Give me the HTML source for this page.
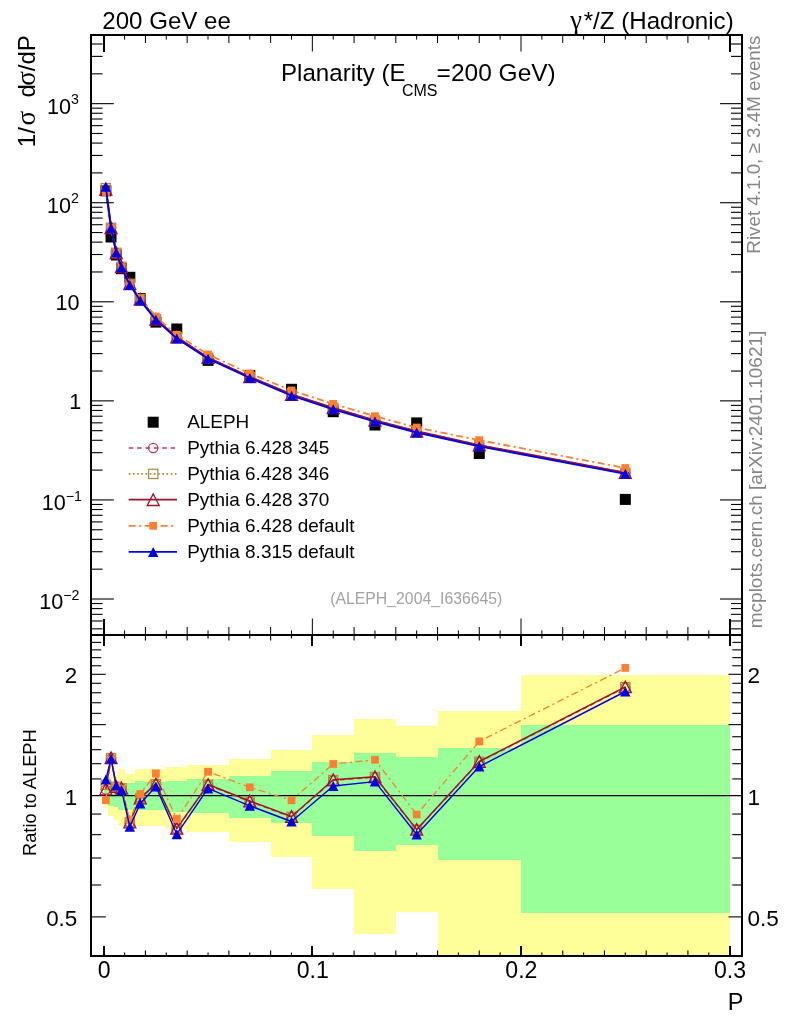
<!DOCTYPE html>
<html><head><meta charset="utf-8"><title>Planarity</title>
<style>html,body{margin:0;padding:0;background:#fff;}svg{display:block;will-change:transform;}text{font-family:"Liberation Sans",sans-serif;}</style></head>
<body>
<svg width="786" height="1024" viewBox="0 0 786 1024" font-family='"Liberation Sans", sans-serif'>
<rect x="0.00" y="0.00" width="786.00" height="1024.00" fill="#fff" />
<g shape-rendering="crispEdges">
<rect x="103.75" y="784.30" width="4.17" height="23.20" fill="#ffff99" />
<rect x="107.92" y="776.90" width="6.26" height="38.90" fill="#ffff99" />
<rect x="114.18" y="774.70" width="4.17" height="45.30" fill="#ffff99" />
<rect x="118.35" y="768.90" width="6.26" height="57.10" fill="#ffff99" />
<rect x="124.61" y="774.20" width="10.43" height="51.80" fill="#ffff99" />
<rect x="135.04" y="769.00" width="10.43" height="57.40" fill="#ffff99" />
<rect x="145.48" y="769.20" width="20.86" height="56.30" fill="#ffff99" />
<rect x="166.34" y="767.00" width="20.86" height="61.70" fill="#ffff99" />
<rect x="187.20" y="764.80" width="41.73" height="67.10" fill="#ffff99" />
<rect x="228.93" y="758.50" width="41.73" height="83.90" fill="#ffff99" />
<rect x="270.65" y="750.20" width="41.73" height="106.40" fill="#ffff99" />
<rect x="312.38" y="734.70" width="41.73" height="154.30" fill="#ffff99" />
<rect x="354.11" y="719.10" width="41.73" height="215.20" fill="#ffff99" />
<rect x="395.83" y="725.60" width="41.73" height="185.90" fill="#ffff99" />
<rect x="437.56" y="711.00" width="83.45" height="245.00" fill="#ffff99" />
<rect x="521.01" y="675.30" width="208.63" height="280.70" fill="#ffff99" />
<rect x="103.75" y="789.80" width="4.17" height="11.60" fill="#99ff99" />
<rect x="107.92" y="786.00" width="6.26" height="20.00" fill="#99ff99" />
<rect x="114.18" y="784.80" width="4.17" height="22.10" fill="#99ff99" />
<rect x="118.35" y="782.50" width="6.26" height="27.50" fill="#99ff99" />
<rect x="124.61" y="783.00" width="10.43" height="27.00" fill="#99ff99" />
<rect x="135.04" y="781.00" width="10.43" height="29.00" fill="#99ff99" />
<rect x="145.48" y="781.50" width="20.86" height="28.10" fill="#99ff99" />
<rect x="166.34" y="781.00" width="20.86" height="30.90" fill="#99ff99" />
<rect x="187.20" y="779.10" width="41.73" height="33.70" fill="#99ff99" />
<rect x="228.93" y="776.00" width="41.73" height="42.00" fill="#99ff99" />
<rect x="270.65" y="771.00" width="41.73" height="52.20" fill="#99ff99" />
<rect x="312.38" y="762.10" width="41.73" height="73.70" fill="#99ff99" />
<rect x="354.11" y="752.90" width="41.73" height="98.40" fill="#99ff99" />
<rect x="395.83" y="757.20" width="41.73" height="87.40" fill="#99ff99" />
<rect x="437.56" y="747.90" width="83.45" height="112.30" fill="#99ff99" />
<rect x="521.01" y="724.80" width="208.63" height="188.00" fill="#99ff99" />
</g>
<line x1="91.00" y1="795.50" x2="742.00" y2="795.50" stroke="#000" stroke-width="1.25" />
<polyline points="105.84,789.60 111.05,758.40 116.27,787.10 121.48,788.60 129.83,822.60 140.26,798.60 155.91,784.50 176.77,828.90 208.06,785.10 249.79,801.60 291.52,817.10 333.24,780.40 374.97,777.40 416.69,830.00 479.28,762.10 625.33,687.50" fill="none" stroke="#be3455" stroke-width="1.2000000000000002" stroke-dasharray="4.5 3.9" stroke-linejoin="round"/>
<circle cx="105.84" cy="789.60" r="4.65" fill="none" stroke="#be3455" stroke-width="1.2"/>
<circle cx="111.05" cy="758.40" r="4.65" fill="none" stroke="#be3455" stroke-width="1.2"/>
<circle cx="116.27" cy="787.10" r="4.65" fill="none" stroke="#be3455" stroke-width="1.2"/>
<circle cx="121.48" cy="788.60" r="4.65" fill="none" stroke="#be3455" stroke-width="1.2"/>
<circle cx="129.83" cy="822.60" r="4.65" fill="none" stroke="#be3455" stroke-width="1.2"/>
<circle cx="140.26" cy="798.60" r="4.65" fill="none" stroke="#be3455" stroke-width="1.2"/>
<circle cx="155.91" cy="784.50" r="4.65" fill="none" stroke="#be3455" stroke-width="1.2"/>
<circle cx="176.77" cy="828.90" r="4.65" fill="none" stroke="#be3455" stroke-width="1.2"/>
<circle cx="208.06" cy="785.10" r="4.65" fill="none" stroke="#be3455" stroke-width="1.2"/>
<circle cx="249.79" cy="801.60" r="4.65" fill="none" stroke="#be3455" stroke-width="1.2"/>
<circle cx="291.52" cy="817.10" r="4.65" fill="none" stroke="#be3455" stroke-width="1.2"/>
<circle cx="333.24" cy="780.40" r="4.65" fill="none" stroke="#be3455" stroke-width="1.2"/>
<circle cx="374.97" cy="777.40" r="4.65" fill="none" stroke="#be3455" stroke-width="1.2"/>
<circle cx="416.69" cy="830.00" r="4.65" fill="none" stroke="#be3455" stroke-width="1.2"/>
<circle cx="479.28" cy="762.10" r="4.65" fill="none" stroke="#be3455" stroke-width="1.2"/>
<circle cx="625.33" cy="687.50" r="4.65" fill="none" stroke="#be3455" stroke-width="1.2"/>
<polyline points="105.84,784.80 111.05,758.10 116.27,786.80 121.48,788.30 129.83,822.30 140.26,798.30 155.91,784.20 176.77,828.60 208.06,784.80 249.79,801.30 291.52,816.80 333.24,780.10 374.97,777.10 416.69,829.70 479.28,761.80 625.33,687.20" fill="none" stroke="#b08a3e" stroke-width="1.2000000000000002" stroke-dasharray="1.7 2.5" stroke-linejoin="round"/>
<rect x="101.19" y="780.15" width="9.30" height="9.30" fill="none" stroke="#b08a3e" stroke-width="1.2"/>
<rect x="106.40" y="753.45" width="9.30" height="9.30" fill="none" stroke="#b08a3e" stroke-width="1.2"/>
<rect x="111.62" y="782.15" width="9.30" height="9.30" fill="none" stroke="#b08a3e" stroke-width="1.2"/>
<rect x="116.83" y="783.65" width="9.30" height="9.30" fill="none" stroke="#b08a3e" stroke-width="1.2"/>
<rect x="125.18" y="817.65" width="9.30" height="9.30" fill="none" stroke="#b08a3e" stroke-width="1.2"/>
<rect x="135.61" y="793.65" width="9.30" height="9.30" fill="none" stroke="#b08a3e" stroke-width="1.2"/>
<rect x="151.26" y="779.55" width="9.30" height="9.30" fill="none" stroke="#b08a3e" stroke-width="1.2"/>
<rect x="172.12" y="823.95" width="9.30" height="9.30" fill="none" stroke="#b08a3e" stroke-width="1.2"/>
<rect x="203.41" y="780.15" width="9.30" height="9.30" fill="none" stroke="#b08a3e" stroke-width="1.2"/>
<rect x="245.14" y="796.65" width="9.30" height="9.30" fill="none" stroke="#b08a3e" stroke-width="1.2"/>
<rect x="286.87" y="812.15" width="9.30" height="9.30" fill="none" stroke="#b08a3e" stroke-width="1.2"/>
<rect x="328.59" y="775.45" width="9.30" height="9.30" fill="none" stroke="#b08a3e" stroke-width="1.2"/>
<rect x="370.32" y="772.45" width="9.30" height="9.30" fill="none" stroke="#b08a3e" stroke-width="1.2"/>
<rect x="412.05" y="825.05" width="9.30" height="9.30" fill="none" stroke="#b08a3e" stroke-width="1.2"/>
<rect x="474.63" y="757.15" width="9.30" height="9.30" fill="none" stroke="#b08a3e" stroke-width="1.2"/>
<rect x="620.68" y="682.55" width="9.30" height="9.30" fill="none" stroke="#b08a3e" stroke-width="1.2"/>
<polyline points="105.84,789.00 111.05,757.80 116.27,786.50 121.48,788.00 129.83,822.00 140.26,798.00 155.91,783.90 176.77,828.30 208.06,784.50 249.79,801.00 291.52,816.50 333.24,779.80 374.97,776.80 416.69,829.40 479.28,761.50 625.33,686.90" fill="none" stroke="#a0102c" stroke-width="1.4249999999999998" stroke-linejoin="round"/>
<polygon points="99.84,794.80 111.84,794.80 105.84,783.20" fill="none" stroke="#a0102c" stroke-width="1.3" stroke-linejoin="miter"/>
<polygon points="105.05,763.60 117.05,763.60 111.05,752.00" fill="none" stroke="#a0102c" stroke-width="1.3" stroke-linejoin="miter"/>
<polygon points="110.27,792.30 122.27,792.30 116.27,780.70" fill="none" stroke="#a0102c" stroke-width="1.3" stroke-linejoin="miter"/>
<polygon points="115.48,793.80 127.48,793.80 121.48,782.20" fill="none" stroke="#a0102c" stroke-width="1.3" stroke-linejoin="miter"/>
<polygon points="123.83,827.80 135.83,827.80 129.83,816.20" fill="none" stroke="#a0102c" stroke-width="1.3" stroke-linejoin="miter"/>
<polygon points="134.26,803.80 146.26,803.80 140.26,792.20" fill="none" stroke="#a0102c" stroke-width="1.3" stroke-linejoin="miter"/>
<polygon points="149.91,789.70 161.91,789.70 155.91,778.10" fill="none" stroke="#a0102c" stroke-width="1.3" stroke-linejoin="miter"/>
<polygon points="170.77,834.10 182.77,834.10 176.77,822.50" fill="none" stroke="#a0102c" stroke-width="1.3" stroke-linejoin="miter"/>
<polygon points="202.06,790.30 214.06,790.30 208.06,778.70" fill="none" stroke="#a0102c" stroke-width="1.3" stroke-linejoin="miter"/>
<polygon points="243.79,806.80 255.79,806.80 249.79,795.20" fill="none" stroke="#a0102c" stroke-width="1.3" stroke-linejoin="miter"/>
<polygon points="285.52,822.30 297.52,822.30 291.52,810.70" fill="none" stroke="#a0102c" stroke-width="1.3" stroke-linejoin="miter"/>
<polygon points="327.24,785.60 339.24,785.60 333.24,774.00" fill="none" stroke="#a0102c" stroke-width="1.3" stroke-linejoin="miter"/>
<polygon points="368.97,782.60 380.97,782.60 374.97,771.00" fill="none" stroke="#a0102c" stroke-width="1.3" stroke-linejoin="miter"/>
<polygon points="410.69,835.20 422.69,835.20 416.69,823.60" fill="none" stroke="#a0102c" stroke-width="1.3" stroke-linejoin="miter"/>
<polygon points="473.28,767.30 485.28,767.30 479.28,755.70" fill="none" stroke="#a0102c" stroke-width="1.3" stroke-linejoin="miter"/>
<polygon points="619.33,692.70 631.33,692.70 625.33,681.10" fill="none" stroke="#a0102c" stroke-width="1.3" stroke-linejoin="miter"/>
<polyline points="105.84,800.20 111.05,760.00 116.27,787.00 121.48,789.00 129.83,819.80 140.26,794.00 155.91,773.40 176.77,819.00 208.06,771.70 249.79,787.30 291.52,800.30 333.24,764.00 374.97,759.80 416.69,814.50 479.28,741.40 625.33,667.90" fill="none" stroke="#ff7f32" stroke-width="1.35" stroke-dasharray="7 3.4 2.2 3.4" stroke-linejoin="round"/>
<rect x="101.94" y="796.30" width="7.80" height="7.80" fill="#ff7f32" />
<rect x="107.15" y="756.10" width="7.80" height="7.80" fill="#ff7f32" />
<rect x="112.37" y="783.10" width="7.80" height="7.80" fill="#ff7f32" />
<rect x="117.58" y="785.10" width="7.80" height="7.80" fill="#ff7f32" />
<rect x="125.93" y="815.90" width="7.80" height="7.80" fill="#ff7f32" />
<rect x="136.36" y="790.10" width="7.80" height="7.80" fill="#ff7f32" />
<rect x="152.01" y="769.50" width="7.80" height="7.80" fill="#ff7f32" />
<rect x="172.87" y="815.10" width="7.80" height="7.80" fill="#ff7f32" />
<rect x="204.16" y="767.80" width="7.80" height="7.80" fill="#ff7f32" />
<rect x="245.89" y="783.40" width="7.80" height="7.80" fill="#ff7f32" />
<rect x="287.62" y="796.40" width="7.80" height="7.80" fill="#ff7f32" />
<rect x="329.34" y="760.10" width="7.80" height="7.80" fill="#ff7f32" />
<rect x="371.07" y="755.90" width="7.80" height="7.80" fill="#ff7f32" />
<rect x="412.80" y="810.60" width="7.80" height="7.80" fill="#ff7f32" />
<rect x="475.38" y="737.50" width="7.80" height="7.80" fill="#ff7f32" />
<rect x="621.43" y="664.00" width="7.80" height="7.80" fill="#ff7f32" />
<polyline points="105.84,779.50 111.05,758.80 116.27,785.50 121.48,790.00 129.83,826.80 140.26,803.60 155.91,786.50 176.77,834.20 208.06,788.40 249.79,805.80 291.52,821.50 333.24,786.00 374.97,781.60 416.69,834.50 479.28,766.60 625.33,691.50" fill="none" stroke="#0000e6" stroke-width="1.4249999999999998" stroke-linejoin="round"/>
<polygon points="100.64,784.50 111.04,784.50 105.84,774.50" fill="#0000e6"/>
<polygon points="105.85,763.80 116.25,763.80 111.05,753.80" fill="#0000e6"/>
<polygon points="111.07,790.50 121.47,790.50 116.27,780.50" fill="#0000e6"/>
<polygon points="116.28,795.00 126.68,795.00 121.48,785.00" fill="#0000e6"/>
<polygon points="124.63,831.80 135.03,831.80 129.83,821.80" fill="#0000e6"/>
<polygon points="135.06,808.60 145.46,808.60 140.26,798.60" fill="#0000e6"/>
<polygon points="150.71,791.50 161.11,791.50 155.91,781.50" fill="#0000e6"/>
<polygon points="171.57,839.20 181.97,839.20 176.77,829.20" fill="#0000e6"/>
<polygon points="202.87,793.40 213.26,793.40 208.06,783.40" fill="#0000e6"/>
<polygon points="244.59,810.80 254.99,810.80 249.79,800.80" fill="#0000e6"/>
<polygon points="286.32,826.50 296.72,826.50 291.52,816.50" fill="#0000e6"/>
<polygon points="328.04,791.00 338.44,791.00 333.24,781.00" fill="#0000e6"/>
<polygon points="369.77,786.60 380.17,786.60 374.97,776.60" fill="#0000e6"/>
<polygon points="411.50,839.50 421.89,839.50 416.69,829.50" fill="#0000e6"/>
<polygon points="474.08,771.60 484.48,771.60 479.28,761.60" fill="#0000e6"/>
<polygon points="620.12,696.50 630.53,696.50 625.33,686.50" fill="#0000e6"/>
<rect x="100.34" y="185.30" width="11.00" height="11.00" fill="#000" />
<rect x="105.55" y="231.50" width="11.00" height="11.00" fill="#000" />
<rect x="110.77" y="249.50" width="11.00" height="11.00" fill="#000" />
<rect x="115.98" y="263.20" width="11.00" height="11.00" fill="#000" />
<rect x="124.33" y="271.80" width="11.00" height="11.00" fill="#000" />
<rect x="134.76" y="293.10" width="11.00" height="11.00" fill="#000" />
<rect x="150.41" y="316.60" width="11.00" height="11.00" fill="#000" />
<rect x="171.27" y="323.50" width="11.00" height="11.00" fill="#000" />
<rect x="202.56" y="354.90" width="11.00" height="11.00" fill="#000" />
<rect x="244.29" y="370.00" width="11.00" height="11.00" fill="#000" />
<rect x="286.02" y="383.80" width="11.00" height="11.00" fill="#000" />
<rect x="327.74" y="406.20" width="11.00" height="11.00" fill="#000" />
<rect x="369.47" y="419.50" width="11.00" height="11.00" fill="#000" />
<rect x="411.19" y="417.40" width="11.00" height="11.00" fill="#000" />
<rect x="473.78" y="448.00" width="11.00" height="11.00" fill="#000" />
<rect x="619.83" y="493.90" width="11.00" height="11.00" fill="#000" />
<polyline points="105.84,189.32 111.05,227.85 116.27,252.91 121.48,266.98 129.83,283.94 140.26,299.34 155.91,319.37 176.77,337.19 208.06,357.82 249.79,376.98 291.52,394.59 333.24,407.96 374.97,420.53 416.69,431.36 479.28,445.26 625.33,472.82" fill="none" stroke="#be3455" stroke-width="1.6" stroke-dasharray="4.5 3.9" stroke-linejoin="round"/>
<circle cx="105.84" cy="189.32" r="4.65" fill="none" stroke="#be3455" stroke-width="1.2"/>
<circle cx="111.05" cy="227.85" r="4.65" fill="none" stroke="#be3455" stroke-width="1.2"/>
<circle cx="116.27" cy="252.91" r="4.65" fill="none" stroke="#be3455" stroke-width="1.2"/>
<circle cx="121.48" cy="266.98" r="4.65" fill="none" stroke="#be3455" stroke-width="1.2"/>
<circle cx="129.83" cy="283.94" r="4.65" fill="none" stroke="#be3455" stroke-width="1.2"/>
<circle cx="140.26" cy="299.34" r="4.65" fill="none" stroke="#be3455" stroke-width="1.2"/>
<circle cx="155.91" cy="319.37" r="4.65" fill="none" stroke="#be3455" stroke-width="1.2"/>
<circle cx="176.77" cy="337.19" r="4.65" fill="none" stroke="#be3455" stroke-width="1.2"/>
<circle cx="208.06" cy="357.82" r="4.65" fill="none" stroke="#be3455" stroke-width="1.2"/>
<circle cx="249.79" cy="376.98" r="4.65" fill="none" stroke="#be3455" stroke-width="1.2"/>
<circle cx="291.52" cy="394.59" r="4.65" fill="none" stroke="#be3455" stroke-width="1.2"/>
<circle cx="333.24" cy="407.96" r="4.65" fill="none" stroke="#be3455" stroke-width="1.2"/>
<circle cx="374.97" cy="420.53" r="4.65" fill="none" stroke="#be3455" stroke-width="1.2"/>
<circle cx="416.69" cy="431.36" r="4.65" fill="none" stroke="#be3455" stroke-width="1.2"/>
<circle cx="479.28" cy="445.26" r="4.65" fill="none" stroke="#be3455" stroke-width="1.2"/>
<circle cx="625.33" cy="472.82" r="4.65" fill="none" stroke="#be3455" stroke-width="1.2"/>
<polyline points="105.84,188.14 111.05,227.78 116.27,252.84 121.48,266.91 129.83,283.86 140.26,299.26 155.91,319.30 176.77,337.11 208.06,357.74 249.79,376.90 291.52,394.51 333.24,407.89 374.97,420.45 416.69,431.28 479.28,445.19 625.33,472.75" fill="none" stroke="#b08a3e" stroke-width="1.6" stroke-dasharray="1.7 2.5" stroke-linejoin="round"/>
<rect x="101.19" y="183.49" width="9.30" height="9.30" fill="none" stroke="#b08a3e" stroke-width="1.2"/>
<rect x="106.40" y="223.13" width="9.30" height="9.30" fill="none" stroke="#b08a3e" stroke-width="1.2"/>
<rect x="111.62" y="248.19" width="9.30" height="9.30" fill="none" stroke="#b08a3e" stroke-width="1.2"/>
<rect x="116.83" y="262.26" width="9.30" height="9.30" fill="none" stroke="#b08a3e" stroke-width="1.2"/>
<rect x="125.18" y="279.21" width="9.30" height="9.30" fill="none" stroke="#b08a3e" stroke-width="1.2"/>
<rect x="135.61" y="294.61" width="9.30" height="9.30" fill="none" stroke="#b08a3e" stroke-width="1.2"/>
<rect x="151.26" y="314.65" width="9.30" height="9.30" fill="none" stroke="#b08a3e" stroke-width="1.2"/>
<rect x="172.12" y="332.46" width="9.30" height="9.30" fill="none" stroke="#b08a3e" stroke-width="1.2"/>
<rect x="203.41" y="353.09" width="9.30" height="9.30" fill="none" stroke="#b08a3e" stroke-width="1.2"/>
<rect x="245.14" y="372.25" width="9.30" height="9.30" fill="none" stroke="#b08a3e" stroke-width="1.2"/>
<rect x="286.87" y="389.86" width="9.30" height="9.30" fill="none" stroke="#b08a3e" stroke-width="1.2"/>
<rect x="328.59" y="403.24" width="9.30" height="9.30" fill="none" stroke="#b08a3e" stroke-width="1.2"/>
<rect x="370.32" y="415.80" width="9.30" height="9.30" fill="none" stroke="#b08a3e" stroke-width="1.2"/>
<rect x="412.05" y="426.63" width="9.30" height="9.30" fill="none" stroke="#b08a3e" stroke-width="1.2"/>
<rect x="474.63" y="440.54" width="9.30" height="9.30" fill="none" stroke="#b08a3e" stroke-width="1.2"/>
<rect x="620.68" y="468.10" width="9.30" height="9.30" fill="none" stroke="#b08a3e" stroke-width="1.2"/>
<polyline points="105.84,189.18 111.05,227.71 116.27,252.76 121.48,266.83 129.83,283.79 140.26,299.19 155.91,319.22 176.77,337.04 208.06,357.67 249.79,376.83 291.52,394.44 333.24,407.82 374.97,420.38 416.69,431.21 479.28,445.12 625.33,472.67" fill="none" stroke="#a0102c" stroke-width="1.9" stroke-linejoin="round"/>
<polygon points="99.84,194.98 111.84,194.98 105.84,183.38" fill="none" stroke="#a0102c" stroke-width="1.3" stroke-linejoin="miter"/>
<polygon points="105.05,233.51 117.05,233.51 111.05,221.91" fill="none" stroke="#a0102c" stroke-width="1.3" stroke-linejoin="miter"/>
<polygon points="110.27,258.56 122.27,258.56 116.27,246.96" fill="none" stroke="#a0102c" stroke-width="1.3" stroke-linejoin="miter"/>
<polygon points="115.48,272.63 127.48,272.63 121.48,261.03" fill="none" stroke="#a0102c" stroke-width="1.3" stroke-linejoin="miter"/>
<polygon points="123.83,289.59 135.83,289.59 129.83,277.99" fill="none" stroke="#a0102c" stroke-width="1.3" stroke-linejoin="miter"/>
<polygon points="134.26,304.99 146.26,304.99 140.26,293.39" fill="none" stroke="#a0102c" stroke-width="1.3" stroke-linejoin="miter"/>
<polygon points="149.91,325.02 161.91,325.02 155.91,313.42" fill="none" stroke="#a0102c" stroke-width="1.3" stroke-linejoin="miter"/>
<polygon points="170.77,342.84 182.77,342.84 176.77,331.24" fill="none" stroke="#a0102c" stroke-width="1.3" stroke-linejoin="miter"/>
<polygon points="202.06,363.47 214.06,363.47 208.06,351.87" fill="none" stroke="#a0102c" stroke-width="1.3" stroke-linejoin="miter"/>
<polygon points="243.79,382.63 255.79,382.63 249.79,371.03" fill="none" stroke="#a0102c" stroke-width="1.3" stroke-linejoin="miter"/>
<polygon points="285.52,400.24 297.52,400.24 291.52,388.64" fill="none" stroke="#a0102c" stroke-width="1.3" stroke-linejoin="miter"/>
<polygon points="327.24,413.62 339.24,413.62 333.24,402.02" fill="none" stroke="#a0102c" stroke-width="1.3" stroke-linejoin="miter"/>
<polygon points="368.97,426.18 380.97,426.18 374.97,414.58" fill="none" stroke="#a0102c" stroke-width="1.3" stroke-linejoin="miter"/>
<polygon points="410.69,437.01 422.69,437.01 416.69,425.41" fill="none" stroke="#a0102c" stroke-width="1.3" stroke-linejoin="miter"/>
<polygon points="473.28,450.92 485.28,450.92 479.28,439.32" fill="none" stroke="#a0102c" stroke-width="1.3" stroke-linejoin="miter"/>
<polygon points="619.33,478.47 631.33,478.47 625.33,466.87" fill="none" stroke="#a0102c" stroke-width="1.3" stroke-linejoin="miter"/>
<polyline points="105.84,191.93 111.05,228.25 116.27,252.89 121.48,267.08 129.83,283.25 140.26,298.21 155.91,316.64 176.77,334.75 208.06,354.52 249.79,373.46 291.52,390.46 333.24,403.93 374.97,416.20 416.69,427.55 479.28,440.17 625.33,468.00" fill="none" stroke="#ff7f32" stroke-width="1.8" stroke-dasharray="7 3.4 2.2 3.4" stroke-linejoin="round"/>
<rect x="101.94" y="188.03" width="7.80" height="7.80" fill="#ff7f32" />
<rect x="107.15" y="224.35" width="7.80" height="7.80" fill="#ff7f32" />
<rect x="112.37" y="248.99" width="7.80" height="7.80" fill="#ff7f32" />
<rect x="117.58" y="263.18" width="7.80" height="7.80" fill="#ff7f32" />
<rect x="125.93" y="279.35" width="7.80" height="7.80" fill="#ff7f32" />
<rect x="136.36" y="294.31" width="7.80" height="7.80" fill="#ff7f32" />
<rect x="152.01" y="312.74" width="7.80" height="7.80" fill="#ff7f32" />
<rect x="172.87" y="330.85" width="7.80" height="7.80" fill="#ff7f32" />
<rect x="204.16" y="350.62" width="7.80" height="7.80" fill="#ff7f32" />
<rect x="245.89" y="369.56" width="7.80" height="7.80" fill="#ff7f32" />
<rect x="287.62" y="386.56" width="7.80" height="7.80" fill="#ff7f32" />
<rect x="329.34" y="400.03" width="7.80" height="7.80" fill="#ff7f32" />
<rect x="371.07" y="412.30" width="7.80" height="7.80" fill="#ff7f32" />
<rect x="412.80" y="423.65" width="7.80" height="7.80" fill="#ff7f32" />
<rect x="475.38" y="436.27" width="7.80" height="7.80" fill="#ff7f32" />
<rect x="621.43" y="464.10" width="7.80" height="7.80" fill="#ff7f32" />
<polyline points="105.84,186.84 111.05,227.95 116.27,252.52 121.48,267.32 129.83,284.97 140.26,300.57 155.91,319.86 176.77,338.49 208.06,358.63 249.79,378.01 291.52,395.67 333.24,409.34 374.97,421.56 416.69,432.46 479.28,446.37 625.33,473.81" fill="none" stroke="#0000e6" stroke-width="1.9" stroke-linejoin="round"/>
<polygon points="100.64,191.84 111.04,191.84 105.84,181.84" fill="#0000e6"/>
<polygon points="105.85,232.95 116.25,232.95 111.05,222.95" fill="#0000e6"/>
<polygon points="111.07,257.52 121.47,257.52 116.27,247.52" fill="#0000e6"/>
<polygon points="116.28,272.32 126.68,272.32 121.48,262.32" fill="#0000e6"/>
<polygon points="124.63,289.97 135.03,289.97 129.83,279.97" fill="#0000e6"/>
<polygon points="135.06,305.57 145.46,305.57 140.26,295.57" fill="#0000e6"/>
<polygon points="150.71,324.86 161.11,324.86 155.91,314.86" fill="#0000e6"/>
<polygon points="171.57,343.49 181.97,343.49 176.77,333.49" fill="#0000e6"/>
<polygon points="202.87,363.63 213.26,363.63 208.06,353.63" fill="#0000e6"/>
<polygon points="244.59,383.01 254.99,383.01 249.79,373.01" fill="#0000e6"/>
<polygon points="286.32,400.67 296.72,400.67 291.52,390.67" fill="#0000e6"/>
<polygon points="328.04,414.34 338.44,414.34 333.24,404.34" fill="#0000e6"/>
<polygon points="369.77,426.56 380.17,426.56 374.97,416.56" fill="#0000e6"/>
<polygon points="411.50,437.46 421.89,437.46 416.69,427.46" fill="#0000e6"/>
<polygon points="474.08,451.37 484.48,451.37 479.28,441.37" fill="#0000e6"/>
<polygon points="620.12,478.81 630.53,478.81 625.33,468.81" fill="#0000e6"/>
<g stroke="#000">
<line x1="104.00" y1="36.00" x2="104.00" y2="51.50" stroke="#000" stroke-width="2" shape-rendering="crispEdges"/>
<line x1="104.00" y1="618.50" x2="104.00" y2="634.00" stroke="#000" stroke-width="2" shape-rendering="crispEdges"/>
<line x1="104.00" y1="636.00" x2="104.00" y2="645.50" stroke="#000" stroke-width="2" shape-rendering="crispEdges"/>
<line x1="104.00" y1="945.50" x2="104.00" y2="955.00" stroke="#000" stroke-width="2" shape-rendering="crispEdges"/>
<line x1="124.56" y1="36.00" x2="124.56" y2="39.60" stroke="#000" stroke-width="1" />
<line x1="124.56" y1="630.40" x2="124.56" y2="634.00" stroke="#000" stroke-width="1" />
<line x1="124.56" y1="636.00" x2="124.56" y2="638.40" stroke="#000" stroke-width="1.1" />
<line x1="124.56" y1="952.60" x2="124.56" y2="955.00" stroke="#000" stroke-width="1.1" />
<line x1="145.43" y1="36.00" x2="145.43" y2="43.00" stroke="#000" stroke-width="1" />
<line x1="145.43" y1="627.00" x2="145.43" y2="634.00" stroke="#000" stroke-width="1" />
<line x1="145.43" y1="636.00" x2="145.43" y2="640.50" stroke="#000" stroke-width="1.1" />
<line x1="145.43" y1="950.50" x2="145.43" y2="955.00" stroke="#000" stroke-width="1.1" />
<line x1="166.30" y1="36.00" x2="166.30" y2="39.60" stroke="#000" stroke-width="1" />
<line x1="166.30" y1="630.40" x2="166.30" y2="634.00" stroke="#000" stroke-width="1" />
<line x1="166.30" y1="636.00" x2="166.30" y2="638.40" stroke="#000" stroke-width="1.1" />
<line x1="166.30" y1="952.60" x2="166.30" y2="955.00" stroke="#000" stroke-width="1.1" />
<line x1="187.16" y1="36.00" x2="187.16" y2="43.00" stroke="#000" stroke-width="1" />
<line x1="187.16" y1="627.00" x2="187.16" y2="634.00" stroke="#000" stroke-width="1" />
<line x1="187.16" y1="636.00" x2="187.16" y2="640.50" stroke="#000" stroke-width="1.1" />
<line x1="187.16" y1="950.50" x2="187.16" y2="955.00" stroke="#000" stroke-width="1.1" />
<line x1="208.03" y1="36.00" x2="208.03" y2="39.60" stroke="#000" stroke-width="1" />
<line x1="208.03" y1="630.40" x2="208.03" y2="634.00" stroke="#000" stroke-width="1" />
<line x1="208.03" y1="636.00" x2="208.03" y2="638.40" stroke="#000" stroke-width="1.1" />
<line x1="208.03" y1="952.60" x2="208.03" y2="955.00" stroke="#000" stroke-width="1.1" />
<line x1="228.89" y1="36.00" x2="228.89" y2="43.00" stroke="#000" stroke-width="1" />
<line x1="228.89" y1="627.00" x2="228.89" y2="634.00" stroke="#000" stroke-width="1" />
<line x1="228.89" y1="636.00" x2="228.89" y2="640.50" stroke="#000" stroke-width="1.1" />
<line x1="228.89" y1="950.50" x2="228.89" y2="955.00" stroke="#000" stroke-width="1.1" />
<line x1="249.75" y1="36.00" x2="249.75" y2="39.60" stroke="#000" stroke-width="1" />
<line x1="249.75" y1="630.40" x2="249.75" y2="634.00" stroke="#000" stroke-width="1" />
<line x1="249.75" y1="636.00" x2="249.75" y2="638.40" stroke="#000" stroke-width="1.1" />
<line x1="249.75" y1="952.60" x2="249.75" y2="955.00" stroke="#000" stroke-width="1.1" />
<line x1="270.62" y1="36.00" x2="270.62" y2="43.00" stroke="#000" stroke-width="1" />
<line x1="270.62" y1="627.00" x2="270.62" y2="634.00" stroke="#000" stroke-width="1" />
<line x1="270.62" y1="636.00" x2="270.62" y2="640.50" stroke="#000" stroke-width="1.1" />
<line x1="270.62" y1="950.50" x2="270.62" y2="955.00" stroke="#000" stroke-width="1.1" />
<line x1="291.49" y1="36.00" x2="291.49" y2="39.60" stroke="#000" stroke-width="1" />
<line x1="291.49" y1="630.40" x2="291.49" y2="634.00" stroke="#000" stroke-width="1" />
<line x1="291.49" y1="636.00" x2="291.49" y2="638.40" stroke="#000" stroke-width="1.1" />
<line x1="291.49" y1="952.60" x2="291.49" y2="955.00" stroke="#000" stroke-width="1.1" />
<line x1="312.35" y1="36.00" x2="312.35" y2="51.50" stroke="#000" stroke-width="1" />
<line x1="312.35" y1="618.50" x2="312.35" y2="634.00" stroke="#000" stroke-width="1" />
<line x1="312.00" y1="636.00" x2="312.00" y2="645.50" stroke="#000" stroke-width="2" shape-rendering="crispEdges"/>
<line x1="312.00" y1="945.50" x2="312.00" y2="955.00" stroke="#000" stroke-width="2" shape-rendering="crispEdges"/>
<line x1="333.22" y1="36.00" x2="333.22" y2="39.60" stroke="#000" stroke-width="1" />
<line x1="333.22" y1="630.40" x2="333.22" y2="634.00" stroke="#000" stroke-width="1" />
<line x1="333.22" y1="636.00" x2="333.22" y2="638.40" stroke="#000" stroke-width="1.1" />
<line x1="333.22" y1="952.60" x2="333.22" y2="955.00" stroke="#000" stroke-width="1.1" />
<line x1="354.08" y1="36.00" x2="354.08" y2="43.00" stroke="#000" stroke-width="1" />
<line x1="354.08" y1="627.00" x2="354.08" y2="634.00" stroke="#000" stroke-width="1" />
<line x1="354.08" y1="636.00" x2="354.08" y2="640.50" stroke="#000" stroke-width="1.1" />
<line x1="354.08" y1="950.50" x2="354.08" y2="955.00" stroke="#000" stroke-width="1.1" />
<line x1="374.94" y1="36.00" x2="374.94" y2="39.60" stroke="#000" stroke-width="1" />
<line x1="374.94" y1="630.40" x2="374.94" y2="634.00" stroke="#000" stroke-width="1" />
<line x1="374.94" y1="636.00" x2="374.94" y2="638.40" stroke="#000" stroke-width="1.1" />
<line x1="374.94" y1="952.60" x2="374.94" y2="955.00" stroke="#000" stroke-width="1.1" />
<line x1="395.81" y1="36.00" x2="395.81" y2="43.00" stroke="#000" stroke-width="1" />
<line x1="395.81" y1="627.00" x2="395.81" y2="634.00" stroke="#000" stroke-width="1" />
<line x1="395.81" y1="636.00" x2="395.81" y2="640.50" stroke="#000" stroke-width="1.1" />
<line x1="395.81" y1="950.50" x2="395.81" y2="955.00" stroke="#000" stroke-width="1.1" />
<line x1="416.67" y1="36.00" x2="416.67" y2="39.60" stroke="#000" stroke-width="1" />
<line x1="416.67" y1="630.40" x2="416.67" y2="634.00" stroke="#000" stroke-width="1" />
<line x1="416.67" y1="636.00" x2="416.67" y2="638.40" stroke="#000" stroke-width="1.1" />
<line x1="416.67" y1="952.60" x2="416.67" y2="955.00" stroke="#000" stroke-width="1.1" />
<line x1="437.54" y1="36.00" x2="437.54" y2="43.00" stroke="#000" stroke-width="1" />
<line x1="437.54" y1="627.00" x2="437.54" y2="634.00" stroke="#000" stroke-width="1" />
<line x1="437.54" y1="636.00" x2="437.54" y2="640.50" stroke="#000" stroke-width="1.1" />
<line x1="437.54" y1="950.50" x2="437.54" y2="955.00" stroke="#000" stroke-width="1.1" />
<line x1="458.41" y1="36.00" x2="458.41" y2="39.60" stroke="#000" stroke-width="1" />
<line x1="458.41" y1="630.40" x2="458.41" y2="634.00" stroke="#000" stroke-width="1" />
<line x1="458.41" y1="636.00" x2="458.41" y2="638.40" stroke="#000" stroke-width="1.1" />
<line x1="458.41" y1="952.60" x2="458.41" y2="955.00" stroke="#000" stroke-width="1.1" />
<line x1="479.27" y1="36.00" x2="479.27" y2="43.00" stroke="#000" stroke-width="1" />
<line x1="479.27" y1="627.00" x2="479.27" y2="634.00" stroke="#000" stroke-width="1" />
<line x1="479.27" y1="636.00" x2="479.27" y2="640.50" stroke="#000" stroke-width="1.1" />
<line x1="479.27" y1="950.50" x2="479.27" y2="955.00" stroke="#000" stroke-width="1.1" />
<line x1="500.13" y1="36.00" x2="500.13" y2="39.60" stroke="#000" stroke-width="1" />
<line x1="500.13" y1="630.40" x2="500.13" y2="634.00" stroke="#000" stroke-width="1" />
<line x1="500.13" y1="636.00" x2="500.13" y2="638.40" stroke="#000" stroke-width="1.1" />
<line x1="500.13" y1="952.60" x2="500.13" y2="955.00" stroke="#000" stroke-width="1.1" />
<line x1="521.00" y1="36.00" x2="521.00" y2="51.50" stroke="#000" stroke-width="1" />
<line x1="521.00" y1="618.50" x2="521.00" y2="634.00" stroke="#000" stroke-width="1" />
<line x1="521.00" y1="636.00" x2="521.00" y2="645.50" stroke="#000" stroke-width="2" shape-rendering="crispEdges"/>
<line x1="521.00" y1="945.50" x2="521.00" y2="955.00" stroke="#000" stroke-width="2" shape-rendering="crispEdges"/>
<line x1="541.87" y1="36.00" x2="541.87" y2="39.60" stroke="#000" stroke-width="1" />
<line x1="541.87" y1="630.40" x2="541.87" y2="634.00" stroke="#000" stroke-width="1" />
<line x1="541.87" y1="636.00" x2="541.87" y2="638.40" stroke="#000" stroke-width="1.1" />
<line x1="541.87" y1="952.60" x2="541.87" y2="955.00" stroke="#000" stroke-width="1.1" />
<line x1="562.73" y1="36.00" x2="562.73" y2="43.00" stroke="#000" stroke-width="1" />
<line x1="562.73" y1="627.00" x2="562.73" y2="634.00" stroke="#000" stroke-width="1" />
<line x1="562.73" y1="636.00" x2="562.73" y2="640.50" stroke="#000" stroke-width="1.1" />
<line x1="562.73" y1="950.50" x2="562.73" y2="955.00" stroke="#000" stroke-width="1.1" />
<line x1="583.60" y1="36.00" x2="583.60" y2="39.60" stroke="#000" stroke-width="1" />
<line x1="583.60" y1="630.40" x2="583.60" y2="634.00" stroke="#000" stroke-width="1" />
<line x1="583.60" y1="636.00" x2="583.60" y2="638.40" stroke="#000" stroke-width="1.1" />
<line x1="583.60" y1="952.60" x2="583.60" y2="955.00" stroke="#000" stroke-width="1.1" />
<line x1="604.46" y1="36.00" x2="604.46" y2="43.00" stroke="#000" stroke-width="1" />
<line x1="604.46" y1="627.00" x2="604.46" y2="634.00" stroke="#000" stroke-width="1" />
<line x1="604.46" y1="636.00" x2="604.46" y2="640.50" stroke="#000" stroke-width="1.1" />
<line x1="604.46" y1="950.50" x2="604.46" y2="955.00" stroke="#000" stroke-width="1.1" />
<line x1="625.33" y1="36.00" x2="625.33" y2="39.60" stroke="#000" stroke-width="1" />
<line x1="625.33" y1="630.40" x2="625.33" y2="634.00" stroke="#000" stroke-width="1" />
<line x1="625.33" y1="636.00" x2="625.33" y2="638.40" stroke="#000" stroke-width="1.1" />
<line x1="625.33" y1="952.60" x2="625.33" y2="955.00" stroke="#000" stroke-width="1.1" />
<line x1="646.19" y1="36.00" x2="646.19" y2="43.00" stroke="#000" stroke-width="1" />
<line x1="646.19" y1="627.00" x2="646.19" y2="634.00" stroke="#000" stroke-width="1" />
<line x1="646.19" y1="636.00" x2="646.19" y2="640.50" stroke="#000" stroke-width="1.1" />
<line x1="646.19" y1="950.50" x2="646.19" y2="955.00" stroke="#000" stroke-width="1.1" />
<line x1="667.06" y1="36.00" x2="667.06" y2="39.60" stroke="#000" stroke-width="1" />
<line x1="667.06" y1="630.40" x2="667.06" y2="634.00" stroke="#000" stroke-width="1" />
<line x1="667.06" y1="636.00" x2="667.06" y2="638.40" stroke="#000" stroke-width="1.1" />
<line x1="667.06" y1="952.60" x2="667.06" y2="955.00" stroke="#000" stroke-width="1.1" />
<line x1="687.92" y1="36.00" x2="687.92" y2="43.00" stroke="#000" stroke-width="1" />
<line x1="687.92" y1="627.00" x2="687.92" y2="634.00" stroke="#000" stroke-width="1" />
<line x1="687.92" y1="636.00" x2="687.92" y2="640.50" stroke="#000" stroke-width="1.1" />
<line x1="687.92" y1="950.50" x2="687.92" y2="955.00" stroke="#000" stroke-width="1.1" />
<line x1="708.78" y1="36.00" x2="708.78" y2="39.60" stroke="#000" stroke-width="1" />
<line x1="708.78" y1="630.40" x2="708.78" y2="634.00" stroke="#000" stroke-width="1" />
<line x1="708.78" y1="636.00" x2="708.78" y2="638.40" stroke="#000" stroke-width="1.1" />
<line x1="708.78" y1="952.60" x2="708.78" y2="955.00" stroke="#000" stroke-width="1.1" />
<line x1="730.00" y1="36.00" x2="730.00" y2="51.50" stroke="#000" stroke-width="2" shape-rendering="crispEdges"/>
<line x1="730.00" y1="618.50" x2="730.00" y2="634.00" stroke="#000" stroke-width="2" shape-rendering="crispEdges"/>
<line x1="730.00" y1="636.00" x2="730.00" y2="645.50" stroke="#000" stroke-width="2" shape-rendering="crispEdges"/>
<line x1="730.00" y1="945.50" x2="730.00" y2="955.00" stroke="#000" stroke-width="2" shape-rendering="crispEdges"/>
<line x1="92.00" y1="628.82" x2="102.60" y2="628.82" stroke="#000" stroke-width="1.1" />
<line x1="731.00" y1="628.82" x2="741.00" y2="628.82" stroke="#000" stroke-width="1.1" />
<line x1="92.00" y1="620.98" x2="102.60" y2="620.98" stroke="#000" stroke-width="1.1" />
<line x1="731.00" y1="620.98" x2="741.00" y2="620.98" stroke="#000" stroke-width="1.1" />
<line x1="92.00" y1="614.35" x2="102.60" y2="614.35" stroke="#000" stroke-width="1.1" />
<line x1="731.00" y1="614.35" x2="741.00" y2="614.35" stroke="#000" stroke-width="1.1" />
<line x1="92.00" y1="608.60" x2="102.60" y2="608.60" stroke="#000" stroke-width="1.1" />
<line x1="731.00" y1="608.60" x2="741.00" y2="608.60" stroke="#000" stroke-width="1.1" />
<line x1="92.00" y1="603.53" x2="102.60" y2="603.53" stroke="#000" stroke-width="1.1" />
<line x1="731.00" y1="603.53" x2="741.00" y2="603.53" stroke="#000" stroke-width="1.1" />
<line x1="92.00" y1="599.00" x2="113.80" y2="599.00" stroke="#000" stroke-width="1.1" />
<line x1="720.00" y1="599.00" x2="741.00" y2="599.00" stroke="#000" stroke-width="1.1" />
<line x1="92.00" y1="569.18" x2="102.60" y2="569.18" stroke="#000" stroke-width="1.1" />
<line x1="731.00" y1="569.18" x2="741.00" y2="569.18" stroke="#000" stroke-width="1.1" />
<line x1="92.00" y1="551.73" x2="102.60" y2="551.73" stroke="#000" stroke-width="1.1" />
<line x1="731.00" y1="551.73" x2="741.00" y2="551.73" stroke="#000" stroke-width="1.1" />
<line x1="92.00" y1="539.35" x2="102.60" y2="539.35" stroke="#000" stroke-width="1.1" />
<line x1="731.00" y1="539.35" x2="741.00" y2="539.35" stroke="#000" stroke-width="1.1" />
<line x1="92.00" y1="529.75" x2="102.60" y2="529.75" stroke="#000" stroke-width="1.1" />
<line x1="731.00" y1="529.75" x2="741.00" y2="529.75" stroke="#000" stroke-width="1.1" />
<line x1="92.00" y1="521.91" x2="102.60" y2="521.91" stroke="#000" stroke-width="1.1" />
<line x1="731.00" y1="521.91" x2="741.00" y2="521.91" stroke="#000" stroke-width="1.1" />
<line x1="92.00" y1="515.28" x2="102.60" y2="515.28" stroke="#000" stroke-width="1.1" />
<line x1="731.00" y1="515.28" x2="741.00" y2="515.28" stroke="#000" stroke-width="1.1" />
<line x1="92.00" y1="509.53" x2="102.60" y2="509.53" stroke="#000" stroke-width="1.1" />
<line x1="731.00" y1="509.53" x2="741.00" y2="509.53" stroke="#000" stroke-width="1.1" />
<line x1="92.00" y1="504.46" x2="102.60" y2="504.46" stroke="#000" stroke-width="1.1" />
<line x1="731.00" y1="504.46" x2="741.00" y2="504.46" stroke="#000" stroke-width="1.1" />
<line x1="92.00" y1="499.93" x2="113.80" y2="499.93" stroke="#000" stroke-width="1.1" />
<line x1="720.00" y1="499.93" x2="741.00" y2="499.93" stroke="#000" stroke-width="1.1" />
<line x1="92.00" y1="470.11" x2="102.60" y2="470.11" stroke="#000" stroke-width="1.1" />
<line x1="731.00" y1="470.11" x2="741.00" y2="470.11" stroke="#000" stroke-width="1.1" />
<line x1="92.00" y1="452.66" x2="102.60" y2="452.66" stroke="#000" stroke-width="1.1" />
<line x1="731.00" y1="452.66" x2="741.00" y2="452.66" stroke="#000" stroke-width="1.1" />
<line x1="92.00" y1="440.28" x2="102.60" y2="440.28" stroke="#000" stroke-width="1.1" />
<line x1="731.00" y1="440.28" x2="741.00" y2="440.28" stroke="#000" stroke-width="1.1" />
<line x1="92.00" y1="430.68" x2="102.60" y2="430.68" stroke="#000" stroke-width="1.1" />
<line x1="731.00" y1="430.68" x2="741.00" y2="430.68" stroke="#000" stroke-width="1.1" />
<line x1="92.00" y1="422.84" x2="102.60" y2="422.84" stroke="#000" stroke-width="1.1" />
<line x1="731.00" y1="422.84" x2="741.00" y2="422.84" stroke="#000" stroke-width="1.1" />
<line x1="92.00" y1="416.21" x2="102.60" y2="416.21" stroke="#000" stroke-width="1.1" />
<line x1="731.00" y1="416.21" x2="741.00" y2="416.21" stroke="#000" stroke-width="1.1" />
<line x1="92.00" y1="410.46" x2="102.60" y2="410.46" stroke="#000" stroke-width="1.1" />
<line x1="731.00" y1="410.46" x2="741.00" y2="410.46" stroke="#000" stroke-width="1.1" />
<line x1="92.00" y1="405.39" x2="102.60" y2="405.39" stroke="#000" stroke-width="1.1" />
<line x1="731.00" y1="405.39" x2="741.00" y2="405.39" stroke="#000" stroke-width="1.1" />
<line x1="92.00" y1="400.86" x2="113.80" y2="400.86" stroke="#000" stroke-width="1.1" />
<line x1="720.00" y1="400.86" x2="741.00" y2="400.86" stroke="#000" stroke-width="1.1" />
<line x1="92.00" y1="371.04" x2="102.60" y2="371.04" stroke="#000" stroke-width="1.1" />
<line x1="731.00" y1="371.04" x2="741.00" y2="371.04" stroke="#000" stroke-width="1.1" />
<line x1="92.00" y1="353.59" x2="102.60" y2="353.59" stroke="#000" stroke-width="1.1" />
<line x1="731.00" y1="353.59" x2="741.00" y2="353.59" stroke="#000" stroke-width="1.1" />
<line x1="92.00" y1="341.21" x2="102.60" y2="341.21" stroke="#000" stroke-width="1.1" />
<line x1="731.00" y1="341.21" x2="741.00" y2="341.21" stroke="#000" stroke-width="1.1" />
<line x1="92.00" y1="331.61" x2="102.60" y2="331.61" stroke="#000" stroke-width="1.1" />
<line x1="731.00" y1="331.61" x2="741.00" y2="331.61" stroke="#000" stroke-width="1.1" />
<line x1="92.00" y1="323.77" x2="102.60" y2="323.77" stroke="#000" stroke-width="1.1" />
<line x1="731.00" y1="323.77" x2="741.00" y2="323.77" stroke="#000" stroke-width="1.1" />
<line x1="92.00" y1="317.14" x2="102.60" y2="317.14" stroke="#000" stroke-width="1.1" />
<line x1="731.00" y1="317.14" x2="741.00" y2="317.14" stroke="#000" stroke-width="1.1" />
<line x1="92.00" y1="311.39" x2="102.60" y2="311.39" stroke="#000" stroke-width="1.1" />
<line x1="731.00" y1="311.39" x2="741.00" y2="311.39" stroke="#000" stroke-width="1.1" />
<line x1="92.00" y1="306.32" x2="102.60" y2="306.32" stroke="#000" stroke-width="1.1" />
<line x1="731.00" y1="306.32" x2="741.00" y2="306.32" stroke="#000" stroke-width="1.1" />
<line x1="92.00" y1="301.79" x2="113.80" y2="301.79" stroke="#000" stroke-width="1.1" />
<line x1="720.00" y1="301.79" x2="741.00" y2="301.79" stroke="#000" stroke-width="1.1" />
<line x1="92.00" y1="271.97" x2="102.60" y2="271.97" stroke="#000" stroke-width="1.1" />
<line x1="731.00" y1="271.97" x2="741.00" y2="271.97" stroke="#000" stroke-width="1.1" />
<line x1="92.00" y1="254.52" x2="102.60" y2="254.52" stroke="#000" stroke-width="1.1" />
<line x1="731.00" y1="254.52" x2="741.00" y2="254.52" stroke="#000" stroke-width="1.1" />
<line x1="92.00" y1="242.14" x2="102.60" y2="242.14" stroke="#000" stroke-width="1.1" />
<line x1="731.00" y1="242.14" x2="741.00" y2="242.14" stroke="#000" stroke-width="1.1" />
<line x1="92.00" y1="232.54" x2="102.60" y2="232.54" stroke="#000" stroke-width="1.1" />
<line x1="731.00" y1="232.54" x2="741.00" y2="232.54" stroke="#000" stroke-width="1.1" />
<line x1="92.00" y1="224.70" x2="102.60" y2="224.70" stroke="#000" stroke-width="1.1" />
<line x1="731.00" y1="224.70" x2="741.00" y2="224.70" stroke="#000" stroke-width="1.1" />
<line x1="92.00" y1="218.07" x2="102.60" y2="218.07" stroke="#000" stroke-width="1.1" />
<line x1="731.00" y1="218.07" x2="741.00" y2="218.07" stroke="#000" stroke-width="1.1" />
<line x1="92.00" y1="212.32" x2="102.60" y2="212.32" stroke="#000" stroke-width="1.1" />
<line x1="731.00" y1="212.32" x2="741.00" y2="212.32" stroke="#000" stroke-width="1.1" />
<line x1="92.00" y1="207.25" x2="102.60" y2="207.25" stroke="#000" stroke-width="1.1" />
<line x1="731.00" y1="207.25" x2="741.00" y2="207.25" stroke="#000" stroke-width="1.1" />
<line x1="92.00" y1="202.72" x2="113.80" y2="202.72" stroke="#000" stroke-width="1.1" />
<line x1="720.00" y1="202.72" x2="741.00" y2="202.72" stroke="#000" stroke-width="1.1" />
<line x1="92.00" y1="172.90" x2="102.60" y2="172.90" stroke="#000" stroke-width="1.1" />
<line x1="731.00" y1="172.90" x2="741.00" y2="172.90" stroke="#000" stroke-width="1.1" />
<line x1="92.00" y1="155.45" x2="102.60" y2="155.45" stroke="#000" stroke-width="1.1" />
<line x1="731.00" y1="155.45" x2="741.00" y2="155.45" stroke="#000" stroke-width="1.1" />
<line x1="92.00" y1="143.07" x2="102.60" y2="143.07" stroke="#000" stroke-width="1.1" />
<line x1="731.00" y1="143.07" x2="741.00" y2="143.07" stroke="#000" stroke-width="1.1" />
<line x1="92.00" y1="133.47" x2="102.60" y2="133.47" stroke="#000" stroke-width="1.1" />
<line x1="731.00" y1="133.47" x2="741.00" y2="133.47" stroke="#000" stroke-width="1.1" />
<line x1="92.00" y1="125.63" x2="102.60" y2="125.63" stroke="#000" stroke-width="1.1" />
<line x1="731.00" y1="125.63" x2="741.00" y2="125.63" stroke="#000" stroke-width="1.1" />
<line x1="92.00" y1="119.00" x2="102.60" y2="119.00" stroke="#000" stroke-width="1.1" />
<line x1="731.00" y1="119.00" x2="741.00" y2="119.00" stroke="#000" stroke-width="1.1" />
<line x1="92.00" y1="113.25" x2="102.60" y2="113.25" stroke="#000" stroke-width="1.1" />
<line x1="731.00" y1="113.25" x2="741.00" y2="113.25" stroke="#000" stroke-width="1.1" />
<line x1="92.00" y1="108.18" x2="102.60" y2="108.18" stroke="#000" stroke-width="1.1" />
<line x1="731.00" y1="108.18" x2="741.00" y2="108.18" stroke="#000" stroke-width="1.1" />
<line x1="92.00" y1="103.65" x2="113.80" y2="103.65" stroke="#000" stroke-width="1.1" />
<line x1="720.00" y1="103.65" x2="741.00" y2="103.65" stroke="#000" stroke-width="1.1" />
<line x1="92.00" y1="73.83" x2="102.60" y2="73.83" stroke="#000" stroke-width="1.1" />
<line x1="731.00" y1="73.83" x2="741.00" y2="73.83" stroke="#000" stroke-width="1.1" />
<line x1="92.00" y1="56.38" x2="102.60" y2="56.38" stroke="#000" stroke-width="1.1" />
<line x1="731.00" y1="56.38" x2="741.00" y2="56.38" stroke="#000" stroke-width="1.1" />
<line x1="92.00" y1="44.00" x2="102.60" y2="44.00" stroke="#000" stroke-width="1.1" />
<line x1="731.00" y1="44.00" x2="741.00" y2="44.00" stroke="#000" stroke-width="1.1" />
<line x1="92.00" y1="916.90" x2="105.80" y2="916.90" stroke="#000" stroke-width="1.1" />
<line x1="728.50" y1="916.90" x2="741.00" y2="916.90" stroke="#000" stroke-width="1.1" />
<line x1="92.00" y1="884.99" x2="101.20" y2="884.99" stroke="#000" stroke-width="1.1" />
<line x1="732.30" y1="884.99" x2="741.00" y2="884.99" stroke="#000" stroke-width="1.1" />
<line x1="92.00" y1="858.02" x2="101.20" y2="858.02" stroke="#000" stroke-width="1.1" />
<line x1="732.30" y1="858.02" x2="741.00" y2="858.02" stroke="#000" stroke-width="1.1" />
<line x1="92.00" y1="834.65" x2="101.20" y2="834.65" stroke="#000" stroke-width="1.1" />
<line x1="732.30" y1="834.65" x2="741.00" y2="834.65" stroke="#000" stroke-width="1.1" />
<line x1="92.00" y1="814.04" x2="101.20" y2="814.04" stroke="#000" stroke-width="1.1" />
<line x1="732.30" y1="814.04" x2="741.00" y2="814.04" stroke="#000" stroke-width="1.1" />
<line x1="92.00" y1="778.92" x2="101.20" y2="778.92" stroke="#000" stroke-width="1.1" />
<line x1="732.30" y1="778.92" x2="741.00" y2="778.92" stroke="#000" stroke-width="1.1" />
<line x1="92.00" y1="763.69" x2="101.20" y2="763.69" stroke="#000" stroke-width="1.1" />
<line x1="732.30" y1="763.69" x2="741.00" y2="763.69" stroke="#000" stroke-width="1.1" />
<line x1="92.00" y1="749.69" x2="101.20" y2="749.69" stroke="#000" stroke-width="1.1" />
<line x1="732.30" y1="749.69" x2="741.00" y2="749.69" stroke="#000" stroke-width="1.1" />
<line x1="92.00" y1="736.72" x2="101.20" y2="736.72" stroke="#000" stroke-width="1.1" />
<line x1="732.30" y1="736.72" x2="741.00" y2="736.72" stroke="#000" stroke-width="1.1" />
<line x1="92.00" y1="724.64" x2="105.80" y2="724.64" stroke="#000" stroke-width="1.1" />
<line x1="728.50" y1="724.64" x2="741.00" y2="724.64" stroke="#000" stroke-width="1.1" />
<line x1="92.00" y1="713.35" x2="101.20" y2="713.35" stroke="#000" stroke-width="1.1" />
<line x1="732.30" y1="713.35" x2="741.00" y2="713.35" stroke="#000" stroke-width="1.1" />
<line x1="92.00" y1="702.74" x2="101.20" y2="702.74" stroke="#000" stroke-width="1.1" />
<line x1="732.30" y1="702.74" x2="741.00" y2="702.74" stroke="#000" stroke-width="1.1" />
<line x1="92.00" y1="692.74" x2="101.20" y2="692.74" stroke="#000" stroke-width="1.1" />
<line x1="732.30" y1="692.74" x2="741.00" y2="692.74" stroke="#000" stroke-width="1.1" />
<line x1="92.00" y1="683.28" x2="101.20" y2="683.28" stroke="#000" stroke-width="1.1" />
<line x1="732.30" y1="683.28" x2="741.00" y2="683.28" stroke="#000" stroke-width="1.1" />
<line x1="92.00" y1="674.30" x2="105.80" y2="674.30" stroke="#000" stroke-width="1.1" />
<line x1="728.50" y1="674.30" x2="741.00" y2="674.30" stroke="#000" stroke-width="1.1" />
<line x1="92.00" y1="665.76" x2="101.20" y2="665.76" stroke="#000" stroke-width="1.1" />
<line x1="732.30" y1="665.76" x2="741.00" y2="665.76" stroke="#000" stroke-width="1.1" />
<line x1="92.00" y1="657.62" x2="101.20" y2="657.62" stroke="#000" stroke-width="1.1" />
<line x1="732.30" y1="657.62" x2="741.00" y2="657.62" stroke="#000" stroke-width="1.1" />
<line x1="92.00" y1="649.84" x2="101.20" y2="649.84" stroke="#000" stroke-width="1.1" />
<line x1="732.30" y1="649.84" x2="741.00" y2="649.84" stroke="#000" stroke-width="1.1" />
<line x1="92.00" y1="642.39" x2="101.20" y2="642.39" stroke="#000" stroke-width="1.1" />
<line x1="732.30" y1="642.39" x2="741.00" y2="642.39" stroke="#000" stroke-width="1.1" />
</g>
<g shape-rendering="crispEdges" stroke="#000">
<rect x="91.0" y="35.0" width="651.0" height="600.0" fill="none" stroke-width="2"/>
<rect x="91.0" y="635.0" width="651.0" height="321.0" fill="none" stroke-width="2"/>
</g>
<text x="102.30" y="28.50" font-size="24.1" text-anchor="start" fill="#000" >200 GeV ee</text>
<text x="570.2" y="28.5" font-size="26.5" style="font-family:&quot;Liberation Serif&quot;,serif">&#947;</text>
<text x="733.70" y="28.50" font-size="24.1" text-anchor="end" fill="#000" >*/Z (Hadronic)</text>
<text x="281.0" y="81.3" font-size="23.9" textLength="124.6" lengthAdjust="spacingAndGlyphs">Planarity (E</text>
<text x="401.9" y="95.8" font-size="15.8" textLength="35.6" lengthAdjust="spacingAndGlyphs">CMS</text>
<text x="436.6" y="81.3" font-size="23.9" textLength="119.2" lengthAdjust="spacingAndGlyphs">=200 GeV)</text>
<g transform="translate(34.5,144.8) rotate(-90)" font-size="24">
<text x="-2.4" y="0">1/</text>
<text x="19.3" y="0" style="font-family:&quot;Liberation Serif&quot;,serif" font-size="27">&#963;</text>
<text x="47.2" y="0">d</text>
<text x="59.0" y="0" style="font-family:&quot;Liberation Serif&quot;,serif" font-size="27">&#963;</text>
<text x="73.6" y="0">/dP</text>
</g>
<text x="47.0" y="114.05" font-size="21.6">10<tspan font-size="14.2" dy="-10">3</tspan></text>
<text x="47.0" y="213.12" font-size="21.6">10<tspan font-size="14.2" dy="-10">2</tspan></text>
<text x="79.60" y="310.39" font-size="21.6" text-anchor="end" fill="#000" >10</text>
<text x="81.20" y="409.46" font-size="21.6" text-anchor="end" fill="#000" >1</text>
<text x="41.8" y="510.33" font-size="21.6">10<tspan font-size="14.2" dy="-9.6">&#8722;1</tspan></text>
<text x="39.2" y="609.40" font-size="21.6">10<tspan font-size="14.2" dy="-9.6">&#8722;2</tspan></text>
<text x="77.30" y="683.30" font-size="22.4" text-anchor="end" fill="#000" >2</text>
<text x="747.40" y="683.30" font-size="22.6" text-anchor="start" fill="#000" >2</text>
<text x="77.30" y="804.60" font-size="22.4" text-anchor="end" fill="#000" >1</text>
<text x="747.40" y="804.60" font-size="22.6" text-anchor="start" fill="#000" >1</text>
<text x="77.30" y="925.90" font-size="22.4" text-anchor="end" fill="#000" >0.5</text>
<text x="747.40" y="925.90" font-size="22.6" text-anchor="start" fill="#000" >0.5</text>
<text transform="translate(35.8,792.7) rotate(-90)" font-size="17.6" text-anchor="middle" textLength="126.5" lengthAdjust="spacingAndGlyphs" x="0" y="0">Ratio to ALEPH</text>
<text x="104.15" y="978.20" font-size="23.1" text-anchor="middle" fill="#000" >0</text>
<text x="312.78" y="978.20" font-size="23.1" text-anchor="middle" fill="#000" >0.1</text>
<text x="521.41" y="978.20" font-size="23.1" text-anchor="middle" fill="#000" >0.2</text>
<text x="730.04" y="978.20" font-size="23.1" text-anchor="middle" fill="#000" >0.3</text>
<text x="743.50" y="1009.50" font-size="23.5" text-anchor="end" fill="#000" >P</text>
<text transform="translate(760,35.6) rotate(-90)" font-size="18.8" text-anchor="end" fill="#868686" x="0" y="0">Rivet 4.1.0, &#8805; 3.4M events</text>
<text transform="translate(762.2,628.2) rotate(-90)" font-size="18.8" text-anchor="start" textLength="297.5" lengthAdjust="spacingAndGlyphs" fill="#868686" x="0" y="0">mcplots.cern.ch [arXiv:2401.10621]</text>
<text x="416.30" y="604.20" font-size="15.8" text-anchor="middle" fill="#a3a3a3" >(ALEPH_2004_I636645)</text>
<rect x="147.70" y="416.70" width="11.00" height="11.00" fill="#000" />
<line x1="128.70" y1="448.00" x2="175.00" y2="448.00" stroke="#be3455" stroke-width="1.6" stroke-dasharray="4.5 3.9"/>
<circle cx="153.20" cy="448.00" r="4.65" fill="none" stroke="#be3455" stroke-width="1.2"/>
<line x1="128.70" y1="473.90" x2="176.50" y2="473.90" stroke="#b08a3e" stroke-width="1.6" stroke-dasharray="1.7 2.5"/>
<rect x="148.55" y="469.25" width="9.30" height="9.30" fill="none" stroke="#b08a3e" stroke-width="1.2"/>
<line x1="128.70" y1="499.70" x2="177.00" y2="499.70" stroke="#a0102c" stroke-width="1.8" />
<polygon points="147.20,505.50 159.20,505.50 153.20,493.90" fill="none" stroke="#a0102c" stroke-width="1.3" stroke-linejoin="miter"/>
<line x1="128.70" y1="525.80" x2="175.00" y2="525.80" stroke="#ff7f32" stroke-width="1.8" stroke-dasharray="7 3.4 2.2 3.4"/>
<rect x="149.30" y="521.90" width="7.80" height="7.80" fill="#ff7f32" />
<line x1="128.70" y1="551.80" x2="177.00" y2="551.80" stroke="#0000e6" stroke-width="1.8" />
<polygon points="148.00,557.10 158.40,557.10 153.20,547.10" fill="#0000e6"/>
<text x="187.20" y="428.00" font-size="18.95" text-anchor="start" fill="#000" >ALEPH</text>
<text x="187.20" y="453.80" font-size="18.95" text-anchor="start" fill="#000" >Pythia 6.428 345</text>
<text x="187.20" y="479.70" font-size="18.95" text-anchor="start" fill="#000" >Pythia 6.428 346</text>
<text x="187.20" y="505.50" font-size="18.95" text-anchor="start" fill="#000" >Pythia 6.428 370</text>
<text x="187.20" y="531.60" font-size="18.95" text-anchor="start" fill="#000" >Pythia 6.428 default</text>
<text x="187.20" y="557.60" font-size="18.95" text-anchor="start" fill="#000" >Pythia 8.315 default</text>
</svg>
</body></html>
